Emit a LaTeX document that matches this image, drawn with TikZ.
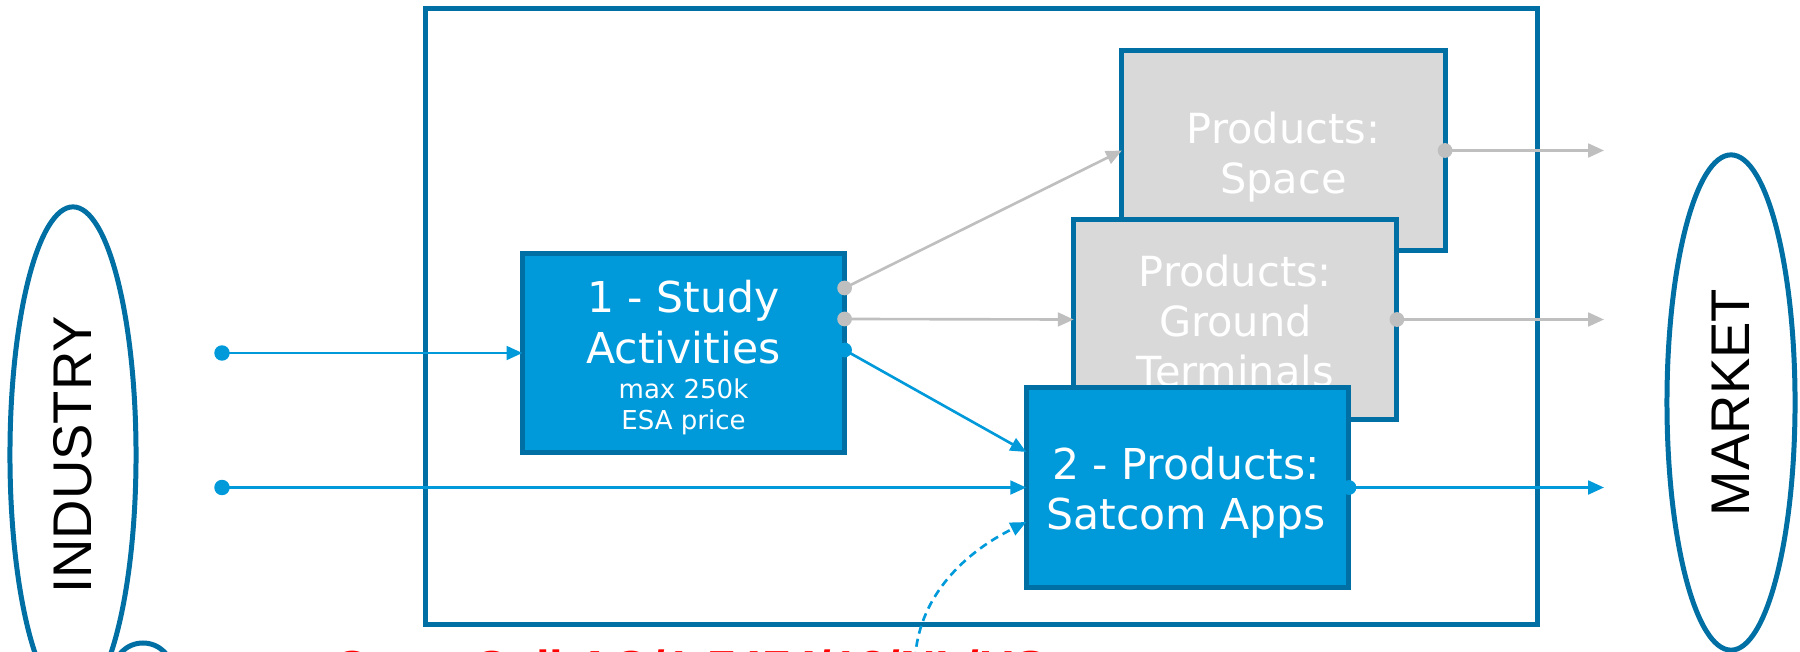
\documentclass[tikz,border=0pt]{standalone}
\usepackage{fontspec}
\setmainfont{DejaVu Sans}
\newfontfamily\arialf{Liberation Sans}
\usetikzlibrary{arrows.meta,shapes.geometric}
\definecolor{frameblue}{HTML}{006FA3}
\definecolor{fillblue}{HTML}{009ADA}
\definecolor{boxgray}{HTML}{D9D9D9}
\definecolor{linegray}{HTML}{BFBFBF}
\definecolor{redtxt}{HTML}{FF0000}
\begin{document}
\begin{tikzpicture}[x=0.01cm,y=-0.01cm,
  border/.style={draw=frameblue, line width=1.42pt},
  bluebox/.style={border, fill=fillblue, rectangle, inner sep=0pt, outer sep=0pt},
  graybox/.style={border, fill=boxgray, rectangle, inner sep=0pt, outer sep=0pt},
  bluecon/.style={draw=fillblue, line width=0.75pt, -{Triangle[length=4.5pt,width=3.9pt]}},
  graycon/.style={draw=linegray, line width=0.75pt, -{Triangle[length=4.5pt,width=3.9pt]}},
  bigtxt/.style={text=white, font=\fontsize{12.1}{14}\selectfont, anchor=base, inner sep=0pt},
  smalltxt/.style={text=white, font=\fontsize{7.4}{9}\selectfont, anchor=base, inner sep=0pt},
  graytxt/.style={text=white, font=\fontsize{11.8}{14}\selectfont, anchor=base, inner sep=0pt},
  sidetxt/.style={ellipse, border, font=\arialf\fontsize{15.5}{18}\selectfont, rotate=90, inner sep=0pt},
  bluedot/.style={fill=fillblue},
  graydot/.style={fill=linegray}
]
\clip (0,0) rectangle (1800,651);

% outer frame
\node[border, rectangle, inner sep=0pt, outer sep=0pt, minimum width=11.12cm, minimum height=6.155cm] (frame) at (981.5,316.25) {};

% side ellipses
\node[sidetxt, minimum width=4.96cm, minimum height=1.26cm] (industry) at (73,455) {INDUSTRY};
\node[sidetxt, minimum width=4.95cm, minimum height=1.28cm] (market) at (1731,402.5) {MARKET};

% study box
\node[bluebox, minimum width=3.22cm, minimum height=1.98cm] (study) at (683.5,353) {};
\node[bigtxt] (st1) at (683.5,312) {1 - Study};
\node[bigtxt] (st2) at (683.5,363) {Activities};
\node[smalltxt] (st3) at (683.5,398) {max 250k};
\node[smalltxt] (st4) at (683.5,429) {ESA price};

% products: space
\node[graybox, minimum width=3.23cm, minimum height=2.00cm] (space) at (1283.5,150.5) {};
\node[graytxt] (sp1) at (1283.5,143) {Products:};
\node[graytxt] (sp2) at (1283.5,193) {Space};

% products: ground terminals
\node[graybox, minimum width=3.23cm, minimum height=2.00cm] (ground) at (1235.3,319.5) {};
\node[graytxt] (gr1) at (1235.3,286) {Products:};
\node[graytxt] (gr2) at (1235.3,336) {Ground};
\node[graytxt] (gr3) at (1235.3,386) {Terminals};

% products: satcom apps
\node[bluebox, minimum width=3.225cm, minimum height=2.00cm] (sat) at (1187.6,487.5) {};
\node[bigtxt] (sa1) at (1186,479) {2 - Products:};
\node[bigtxt] (sa2) at (1186,529) {Satcom Apps};

% bottom partial items
\node[circle, border, minimum size=0.6cm, inner sep=0pt] (circ) at (143,673) {};
\node[anchor=base west, text=redtxt, inner sep=0pt, font=\arialf\bfseries\fontsize{14}{16}\selectfont] (red) at (333,685) {Open Call AO/1-7474/13/NL/US};

% coordinates
\coordinate (in1) at (222,353);
\coordinate (in2) at (222,487.5);
\coordinate (s1) at ([yshift=-0.34cm]study.north east);
\coordinate (s2) at ([yshift=-0.65cm]study.north east);
\coordinate (s3) at ([yshift=-0.96cm]study.north east);
\coordinate (satA) at ([yshift=-0.645cm]sat.north west);
\coordinate (satB) at ([yshift=-1.345cm]sat.north west);
\coordinate (mx) at (1604,0);
\coordinate (dstart) at (915,660);

% connectors
\draw[bluecon] (in1) -- (study.west);
\draw[bluecon] (in2) -- (sat.west);
\draw[graycon] (s1) -- (space.west);
\draw[graycon] (s2) -- (ground.west);
\draw[bluecon] (s3) -- (satA);
\draw[graycon] (space.east) -- (space.east -| mx);
\draw[graycon] (ground.east) -- (ground.east -| mx);
\draw[bluecon] (sat.east) -- (sat.east -| mx);
\draw[bluecon, dash pattern=on 2.3pt off 1.5pt] (dstart) .. controls (918,600) and (960,555) .. (satB);

% dots
\fill[bluedot] (in1) circle[radius=2.2pt];
\fill[bluedot] (in2) circle[radius=2.2pt];
\fill[graydot] (s1) circle[radius=2.1pt];
\fill[graydot] (s2) circle[radius=2.1pt];
\fill[bluedot] (s3) circle[radius=2.1pt];
\fill[graydot] (space.east) circle[radius=2.1pt];
\fill[graydot] (ground.east) circle[radius=2.1pt];
\fill[bluedot] (sat.east) circle[radius=2.1pt];
\end{tikzpicture}
\end{document}
